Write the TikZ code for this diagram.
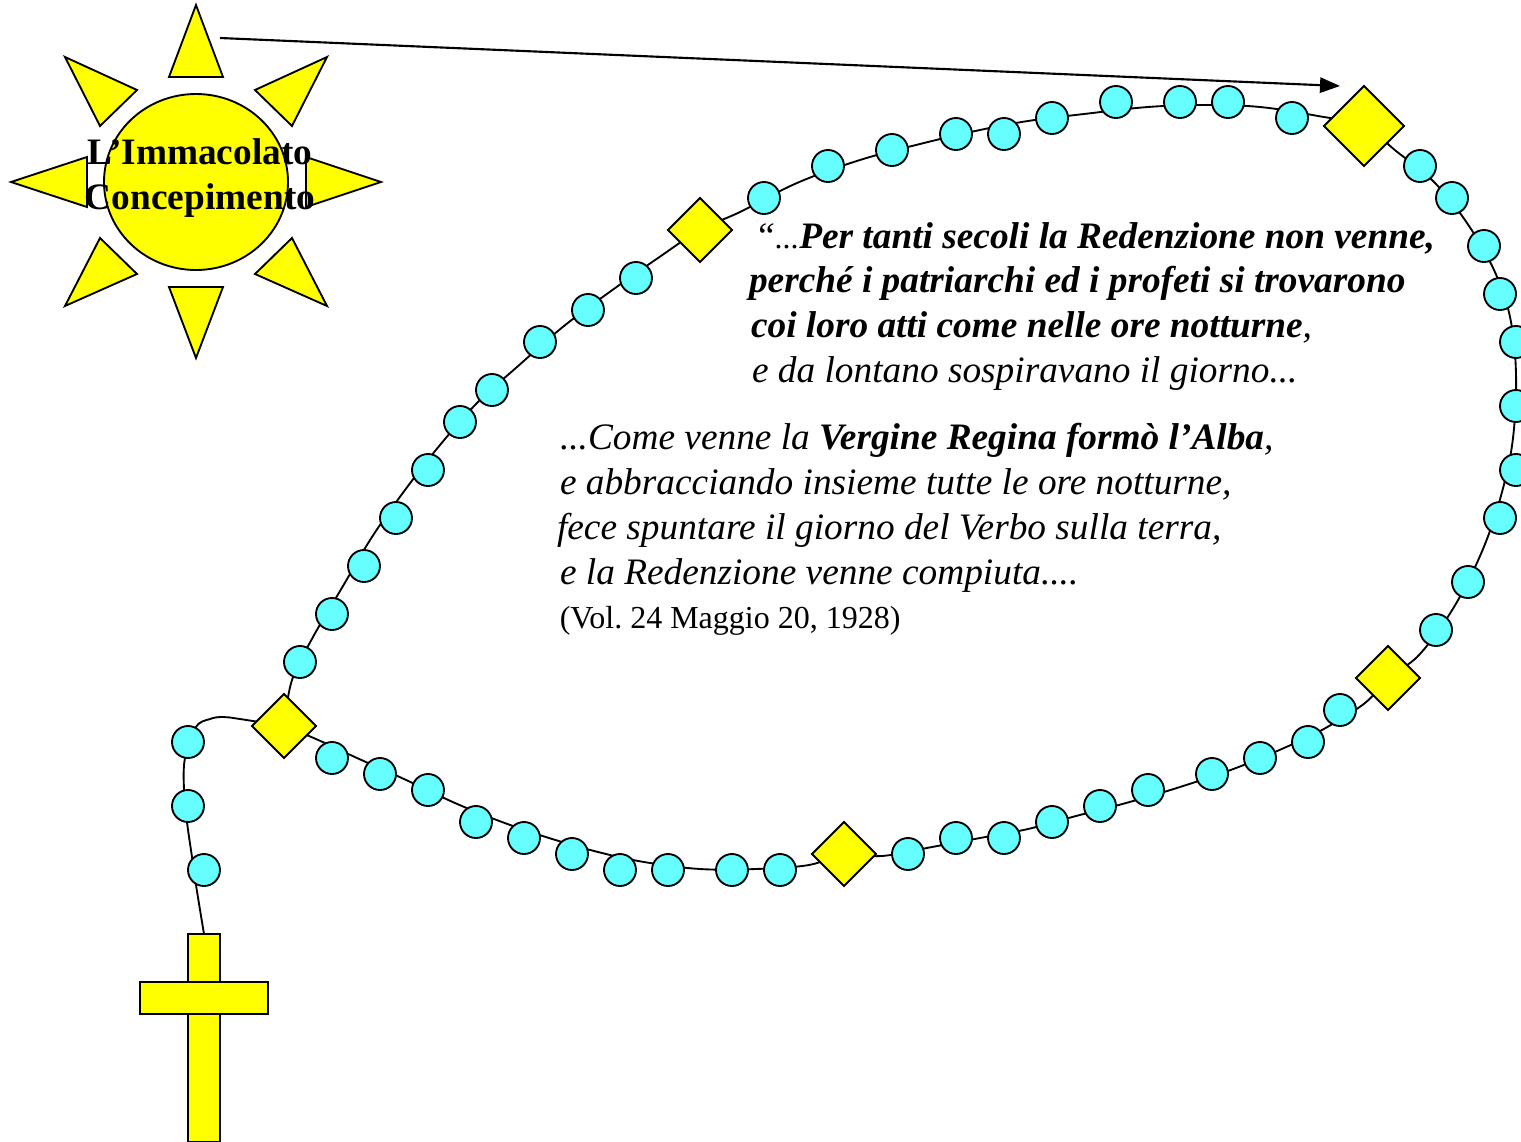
\documentclass[tikz,border=0pt]{standalone}
\usepackage{fontspec}
\setmainfont{Liberation Serif}
\frenchspacing
\usetikzlibrary{arrows.meta,backgrounds,shapes.geometric}
\definecolor{beadc}{HTML}{66FFFF}
\definecolor{sunc}{HTML}{FFFF00}
\tikzset{
  outl/.style={draw=black,line width=1.4pt,line join=miter},
  bead/.style={circle,outl,fill=beadc,minimum size=24pt,inner sep=0pt,outer sep=0pt},
  gem/.style={diamond,outl,fill=sunc,minimum size=48pt,inner sep=0pt,outer sep=0pt},
  biggem/.style={diamond,outl,fill=sunc,minimum size=60pt,inner sep=0pt,outer sep=0pt},
  ray/.style={outl,fill=sunc},
  crossbar/.style={rectangle,outl,fill=sunc,inner sep=0pt,outer sep=0pt},
  cord/.style={draw=black,line width=1.4pt,smooth,tension=0.6},
  txt/.style={anchor=base west,inner sep=0pt,outer sep=0pt,font=\fontsize{28}{33}\selectfont\itshape},
  suntxt/.style={anchor=base,inner sep=0pt,outer sep=0pt,font=\fontsize{28}{33}\selectfont\bfseries},
}
\begin{document}
\begin{tikzpicture}[x=0.75pt,y=-0.75pt]
\useasboundingbox (0,0) rectangle (1521,1142);
% rays
\draw[ray] (196,5) -- (169,77) -- (223,77) -- cycle;
\draw[ray] (196,358) -- (169,287) -- (223,287) -- cycle;
\draw[ray] (65,57) -- (137,90) -- (100,126) -- cycle;
\draw[ray] (327,57) -- (255,90) -- (292,126) -- cycle;
\draw[ray] (65,306) -- (137,274) -- (100,238) -- cycle;
\draw[ray] (327,306) -- (255,274) -- (292,238) -- cycle;
\draw[ray] (11,182) -- (87,157) -- (87,207) -- cycle;
\draw[ray] (381,182) -- (306,157) -- (306,207) -- cycle;
\node[ellipse,outl,fill=sunc,minimum width=138pt,minimum height=132pt,inner sep=0pt,outer sep=0pt] (sun) at (196,182) {};
\node[suntxt] (sunA) at (200,164) {L’Immacolato};
\node[suntxt] (sunB) at (200,209) {Concepimento};
% gems
\node[gem] (g0) at (284,726) {};
\node[gem] (g1) at (700,230) {};
\node[biggem] (g2) at (1364,126) {};
\node[gem] (g3) at (1388,678) {};
\node[gem] (g4) at (844,854) {};
% beads
\foreach \n/\x/\y in {
a1/300/662,a2/332/614,a3/364/566,a4/396/518,a5/428/470,a6/460/422,a7/492/390,a8/540/342,a9/588/310,a10/636/278,
b1/764/198,b2/828/166,b3/892/150,b4/956/134,b5/1004/134,b6/1052/118,b7/1116/102,b8/1180/102,b9/1228/102,b10/1292/118,
c1/1420/166,c2/1452/198,c3/1484/246,c4/1500/294,c5/1516/342,c6/1516/406,c7/1516/470,c8/1500/518,c9/1468/582,c10/1436/630,
d1/1340/710,d2/1308/742,d3/1260/758,d4/1212/774,d5/1148/790,d6/1100/806,d7/1052/822,d8/1004/838,d9/956/838,d10/908/854,
e1/780/870,e2/732/870,e3/668/870,e4/620/870,e5/572/854,e6/524/838,e7/476/822,e8/428/790,e9/380/774,e10/332/758,
p1/188/742,p2/188/806,p3/204/870}
  {\node[bead] (\n) at (\x,\y) {};}
% cross
\node[crossbar,minimum width=24pt,minimum height=156pt,anchor=north] (crossV) at (204,934) {};
\node[crossbar,minimum width=96pt,minimum height=24pt] (crossH) at (204,998) {};
% points the cord runs through, between the beads
\foreach \n/\x/\y in {
w1/292/680,w2/313/637,w3/343/586,w4/372/537,w5/405/490,w6/440/445,w7/478/402,w8/517/367,w9/564/326,w10/611/291,w11/658/258,
w12/740/212,w13/797/183,w14/860/160,w15/924/143,w16/980/130,w17/1028/121,w18/1084/114,w19/1148/107,w20/1204/105,w21/1260/107,w22/1318/116,
w23/1396/151,w24/1434/182,w25/1467/223,w26/1494/270,w27/1510/317,w28/1516/374,w29/1513/438,w30/1502/492,w31/1483/549,w32/1454/607,w33/1419/655,
w34/1365/703,w35/1322/730,w36/1284/748,w37/1236/768,w38/1180/787,w39/1126/803,w40/1076/816,w41/1028/829,w42/980/838,w43/932/847,w44/882/856,
w45/809/865,w46/756/869,w47/700/869,w48/644/862,w49/598/852,w50/549/838,w51/502/822,w52/455/803,w53/404/779,w54/357/758,w55/316/739,
q1/240/719,q2/223/717,q3/210/719,q4/196/727,q5/185/758,q6/184/790,q7/187/822,q8/192/857,q9/196/885}
  {\coordinate (\n) at (\x,\y);}
\begin{scope}[on background layer]
\draw[cord] plot coordinates {(g0) (w1) (w2) (w3) (w4) (w5) (w6) (w7) (w8) (w9) (w10) (w11) (g1) (w12) (w13) (w14) (w15) (w16) (w17) (w18) (w19) (w20) (w21) (w22) (g2) (w23) (w24) (w25) (w26) (w27) (w28) (w29) (w30) (w31) (w32) (w33) (g3) (w34) (w35) (w36) (w37) (w38) (w39) (w40) (w41) (w42) (w43) (w44) (g4) (w45) (w46) (w47) (w48) (w49) (w50) (w51) (w52) (w53) (w54) (w55) (g0)};
\draw[cord] plot coordinates {(g0) (q1) (q2) (q3) (q4) (q5) (q6) (q7) (q8) (q9) (crossV.north)};
\end{scope}
% arrow
\coordinate (arrA) at (220,38);
\coordinate (arrB) at (1340,86);
\draw[line width=1.6pt,-{Stealth[length=15pt,width=11.5pt,inset=0pt]}] (arrA) -- (arrB);
% text
\node[txt] (t1) at (754.5,248) {“{\fontsize{24}{28}\selectfont...}\textbf{Per tanti secoli la Redenzione non venne,}};
\node[txt] (t2) at (749,292.5) {\textbf{perché i patriarchi ed i profeti si trovarono}};
\node[txt] (t3) at (751,337.5) {\textbf{coi loro atti come nelle ore notturne},};
\node[txt] (t4) at (752,382.5) {e da lontano sospiravano il giorno...};
\node[txt] (t5) at (560,449.5) {...Come venne la \textbf{Vergine Regina formò l’Alba},};
\node[txt] (t6) at (560,494.5) {e abbracciando insieme tutte le ore notturne,};
\node[txt] (t7) at (557,539.5) {fece spuntare il giorno del Verbo sulla terra,};
\node[txt] (t8) at (560,584.5) {e la Redenzione venne compiuta....};
\node[anchor=base west,inner sep=0pt,font=\fontsize{24}{28}\selectfont] (t9) at (559.5,628.5) {(Vol. 24 Maggio 20, 1928)};
\end{tikzpicture}
\end{document}
